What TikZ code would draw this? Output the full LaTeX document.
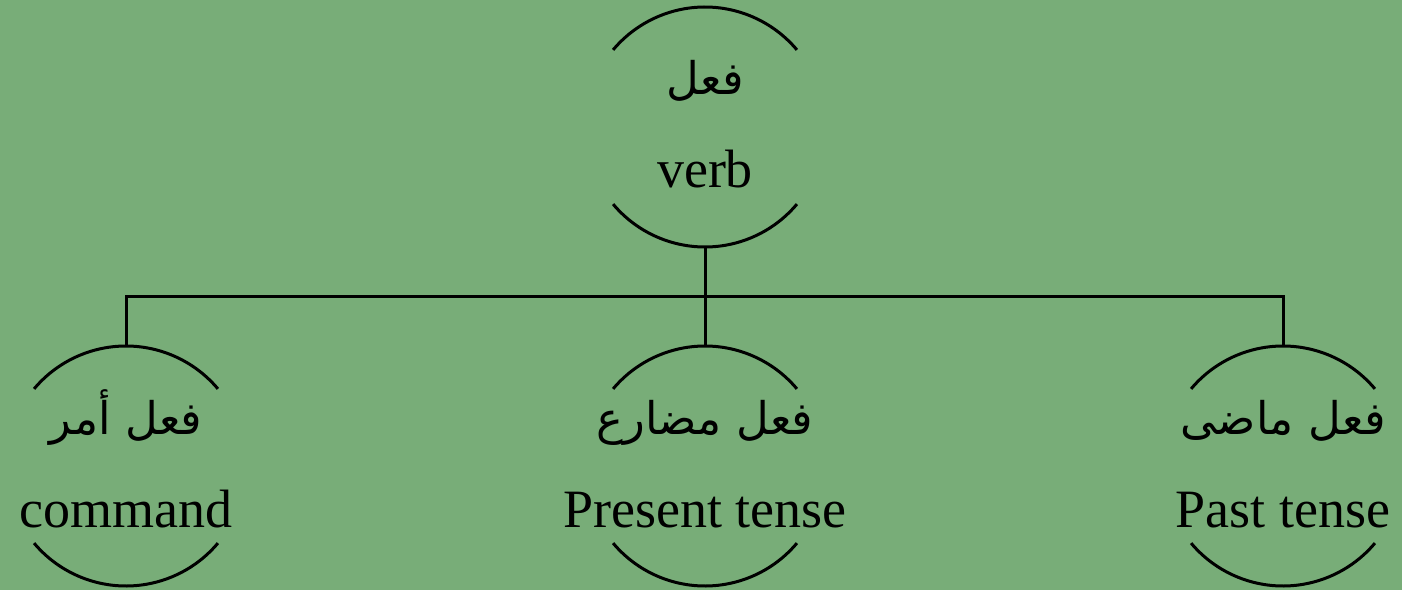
\documentclass[tikz,border=0pt]{standalone}
\usepackage{fontspec}
\usetikzlibrary{calc}
\setmainfont{Liberation Serif}
\newfontfamily\arabicfont[Script=Arabic]{DejaVu Sans}
\TeXXeTstate=1
\definecolor{bg}{RGB}{120,173,120}
\begin{document}
\begin{tikzpicture}[x=1pt,y=1pt,line width=3pt,
  ring/.style={circle,minimum size=240pt,inner sep=0pt,outer sep=0pt},
  entext/.style={anchor=base,inner sep=0pt,font=\fontsize{54}{60}\selectfont},
  artext/.style={anchor=base,inner sep=0pt,font=\arabicfont\fontsize{45}{52}\selectfont}]
\fill[bg] (0,0) rectangle (1402,590);
\useasboundingbox (0,0) rectangle (1402,590);

% circles, drawn as an upper and a lower arc
\node[ring] (root) at (705,463) {};
\node[ring] (cmd)  at (126,124) {};
\node[ring] (pres) at (705,124) {};
\node[ring] (past) at (1283,124) {};
\foreach \n in {root,cmd,pres,past}{
  \draw (\n.40) arc[start angle=40,end angle=140,radius=120pt];
  \draw (\n.220) arc[start angle=220,end angle=320,radius=120pt];
}

% labels
\node[artext] (rootar) at ($(root.center)+(0,32)$) {\beginR فعل\endR};
\node[entext] (rooten) at ($(root.center)+(0,-61)$) {verb};
\node[artext] (cmdar) at ($(cmd.center)+(0,32)$) {\beginR فعل أمر\endR};
\node[entext] (cmden) at ($(cmd.center)+(0,-61)$) {command};
\node[artext] (presar) at ($(pres.center)+(0,32)$) {\beginR فعل مضارع\endR};
\node[entext] (presen) at ($(pres.center)+(0,-61)$) {Present tense};
\node[artext] (pastar) at ($(past.center)+(0,32)$) {\beginR فعل ماضى\endR};
\node[entext] (pasten) at ($(past.center)+(0,-61)$) {Past tense};

% connectors
\coordinate (bus) at (705,294);
\draw (root.south) -- (bus);
\draw (cmd.north) |- (bus) -| (past.north);
\draw (bus) -- (pres.north);
\end{tikzpicture}
\end{document}
